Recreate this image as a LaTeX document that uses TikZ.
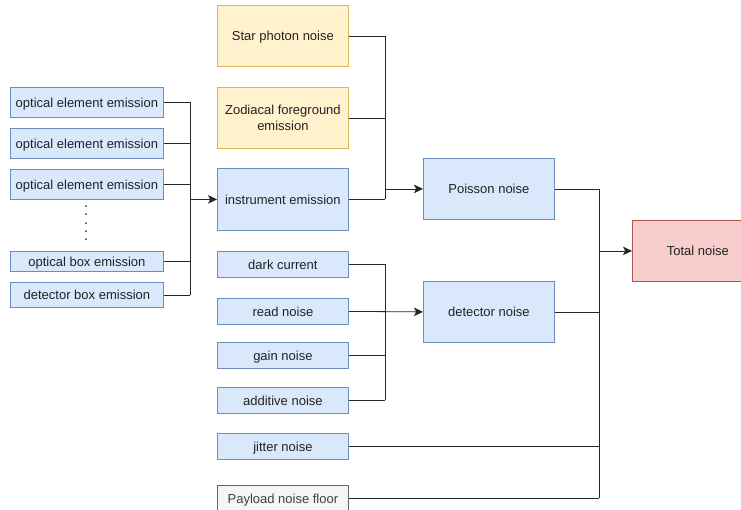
\documentclass[tikz,border=0pt]{standalone}
\usepackage{fontspec}
\setmainfont{Liberation Sans}
\usetikzlibrary{arrows.meta}
\definecolor{bfill}{HTML}{DAE8FC}
\definecolor{bline}{HTML}{6C8EBF}
\definecolor{yfill}{HTML}{FFF2CC}
\definecolor{yline}{HTML}{D6B656}
\definecolor{rfill}{HTML}{F8CECC}
\definecolor{rline}{HTML}{B85450}
\definecolor{gfill}{HTML}{F5F5F5}
\definecolor{gline}{HTML}{666666}
\definecolor{txt}{HTML}{222222}
\begin{document}
\begin{tikzpicture}[x=1pt,y=-1pt,
  box/.style={draw, line width=0.8pt, inner sep=0pt, anchor=north west, align=center,
     text=txt, font=\fontsize{13}{15.5}\selectfont},
  oneline/.style={text height=12.3pt, text depth=2.5pt},
  bluebox/.style={box, fill=bfill, draw=bline},
  yelbox/.style={box, fill=yfill, draw=yline},
  redbox/.style={box, fill=rfill, draw=rline},
  greybox/.style={box, fill=gfill, draw=gline, text=black!75},
  conn/.style={line width=0.8pt, draw=black!85},
  arr/.style={conn, -{Stealth[length=9pt,width=8.5pt,inset=2.2pt]}},
  dotmark/.style={circle, fill=black!80, inner sep=0pt, minimum size=2pt}
]
\useasboundingbox (0,0) rectangle (741,509);
\clip (0,0) rectangle (741,509);
\fill[white] (0,0) rectangle (741,509);

% left column
\node[bluebox, oneline, minimum width=153, minimum height=30] (o1) at (10,87) {optical element emission};
\node[bluebox, oneline, minimum width=153, minimum height=30] (o2) at (10,128) {optical element emission};
\node[bluebox, oneline, minimum width=153, minimum height=30] (o3) at (10,169) {optical element emission};
\node[bluebox, oneline, minimum width=153, minimum height=20] (o4) at (10,251) {optical box emission};
\node[bluebox, oneline, minimum width=153, minimum height=25] (o5) at (10,282) {detector box emission};
\foreach \yy [count=\i] in {206,214,223,231,239} \node[dotmark] (d\i) at (86,\yy) {};

% middle column
\node[yelbox, oneline, minimum width=131, minimum height=61] (sp) at (217,5) {Star photon noise};
\node[yelbox, minimum width=131, minimum height=61] (zo) at (217,87) {Zodiacal foreground\\emission};
\node[bluebox, oneline, minimum width=131, minimum height=62] (ie) at (217,168) {instrument emission};
\node[bluebox, oneline, minimum width=131, minimum height=26] (dc) at (217,251) {dark current};
\node[bluebox, oneline, minimum width=131, minimum height=26] (rn) at (217,298) {read noise};
\node[bluebox, oneline, minimum width=131, minimum height=26] (gn) at (217,342) {gain noise};
\node[bluebox, oneline, minimum width=131, minimum height=26] (an) at (217,387) {additive noise};
\node[bluebox, oneline, minimum width=131, minimum height=26] (jn) at (217,433) {jitter noise};
\node[greybox, oneline, minimum width=131, minimum height=26] (pf) at (217,485) {Payload noise floor};

% right
\node[bluebox, oneline, minimum width=131, minimum height=61] (pn) at (423,158) {Poisson noise};
\node[bluebox, oneline, minimum width=131, minimum height=61] (dn) at (423,281) {detector noise};
\node[redbox, oneline, minimum width=131, minimum height=61] (tn) at (632,220) {Total noise};

% bus coordinates
\coordinate (b1) at (190,0);
\coordinate (b2) at (385,0);
\coordinate (b3) at (599,0);

% left bus
\foreach \n in {o1,o2,o3,o4,o5} \draw[conn] (\n.east) -- (\n.east -| b1);
\draw[conn] (o1.east -| b1) -- (o5.east -| b1);
\draw[arr] (ie.west -| b1) -- (ie.west);

% poisson bus
\foreach \n in {sp,zo,ie} \draw[conn] (\n.east) -- (\n.east -| b2);
\draw[conn] (sp.east -| b2) -- (ie.east -| b2);
\draw[arr] (pn.west -| b2) -- (pn.west);

% detector bus
\foreach \n in {dc,gn,an} \draw[conn] (\n.east) -- (\n.east -| b2);
\draw[conn] (dc.east -| b2) -- (an.east -| b2);
\draw[arr] (rn.east) -- (dn.west);

% total bus
\foreach \n in {pn,dn,jn,pf} \draw[conn] (\n.east) -- (\n.east -| b3);
\draw[conn] (pn.east -| b3) -- (pf.east -| b3);
\draw[arr] (tn.west -| b3) -- (tn.west);
\end{tikzpicture}
\end{document}
